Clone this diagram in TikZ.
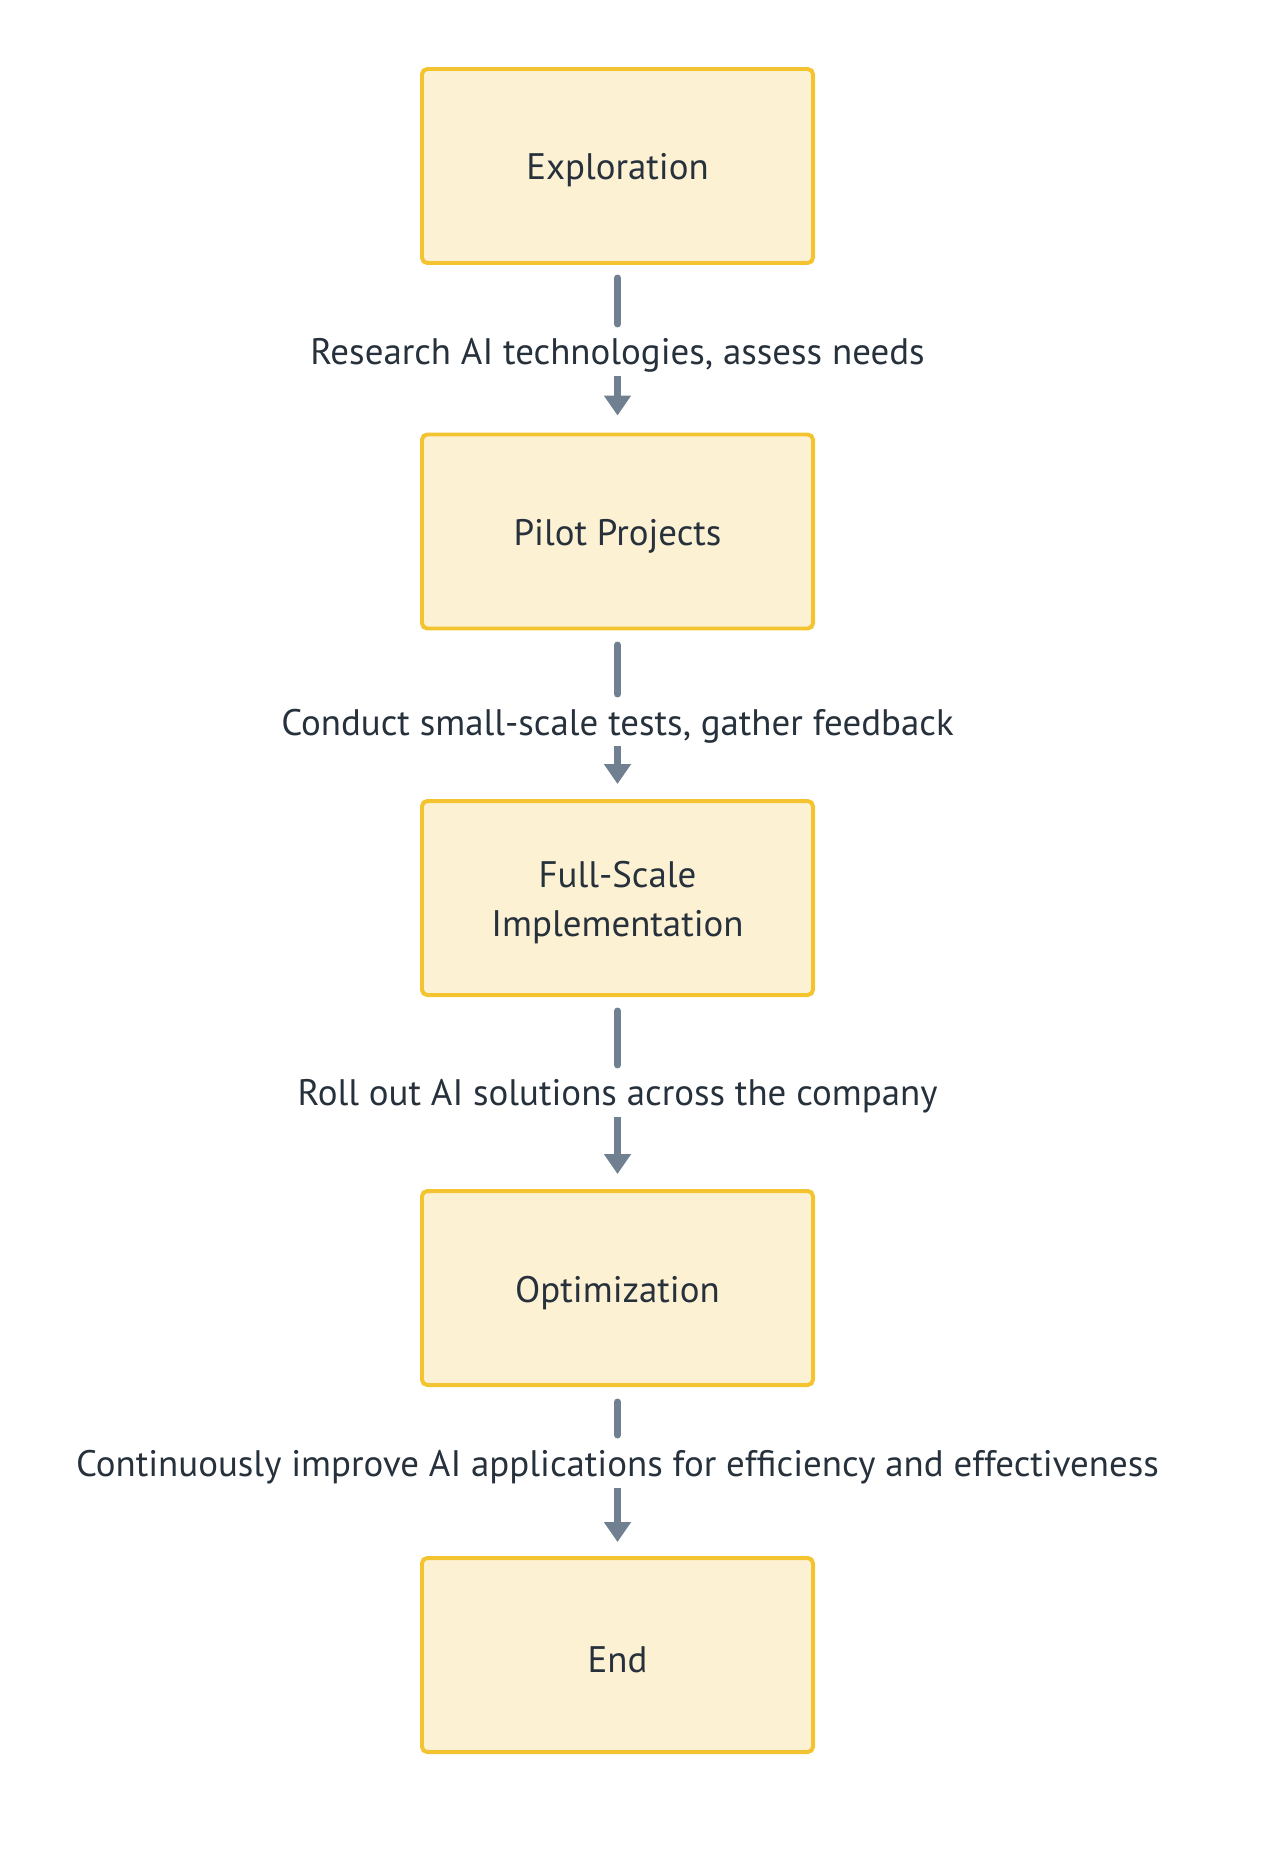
\documentclass[tikz,border=0pt]{standalone}
\usepackage{fontspec}
\setmainfont{PT Sans}
\usetikzlibrary{arrows.meta}
\definecolor{boxfill}{HTML}{FDF1D3}
\definecolor{boxline}{HTML}{F4C430}
\definecolor{arrowgray}{HTML}{708090}
\definecolor{textdark}{HTML}{26313C}
\newcommand{\dropped}[1]{\raisebox{-2.6pt}[\height][\depth]{#1}}
\tikzset{
  stage/.style={draw=boxline, fill=boxfill, line width=4pt*0.5669, rounded corners=3pt,
    minimum width=391*0.02cm, minimum height=194*0.02cm, align=center,
    text=textdark, font=\fontsize{21}{28}\selectfont},
  note/.style={text=textdark, font=\fontsize{21}{25}\selectfont, inner sep=0pt},
  link/.style={draw=arrowgray, line width=7*0.5669pt, line cap=round},
  linkarrow/.style={link, line cap=butt, shorten >=15*0.02cm,
    -{Triangle[width=26*0.5669pt, length=20*0.5669pt]}}
}
\begin{document}
\begin{tikzpicture}[x=0.02cm, y=-0.02cm]
    \useasboundingbox (0,0) rectangle (1280,1855);
    \node[stage] (explore) at (617.5,166) {\dropped{Exploration}};
    \node[stage] (pilot) at (617.5,531.5) {\dropped{Pilot Projects}};
    \node[stage] (full) at (617.5,898) {\dropped{Full-Scale}\\\dropped{Implementation}};
    \node[stage] (optim) at (617.5,1288) {\dropped{Optimization}};
    \node[stage] (finish) at (617.5,1655) {\dropped{End}};
    \node[note] (research) at (617.5,355) {Research AI technologies, assess needs};
    \node[note] (conduct) at (617.5,726) {Conduct small-scale tests, gather feedback};
    \node[note] (rollout) at (617.5,1096) {Roll out AI solutions across the company};
    \node[note] (improve) at (617.5,1467) {Continuously improve AI applications for efficiency and effectiveness};
    \coordinate (a1) at (617.5,278); \coordinate (a2) at (617.5,324);
    \coordinate (a3) at (617.5,376);
    \draw[link] (a1) -- (a2);% first link
    \draw[linkarrow, shorten >=17*0.02cm] (a3) -- (pilot.north);% first link
    \coordinate (b1) at (617.5,645); \coordinate (b2) at (617.5,694);
    \coordinate (b3) at (617.5,746);
    \draw[link] (b1) -- (b2);% second link
    \draw[linkarrow] (b3) -- (full.north);% second link
    \coordinate (c1) at (617.5,1011); \coordinate (c2) at (617.5,1065);
    \coordinate (c3) at (617.5,1117);
    \draw[link] (c1) -- (c2);% third link
    \draw[linkarrow] (c3) -- (optim.north);% third link
    \coordinate (d1) at (617.5,1402); \coordinate (d2) at (617.5,1435);
    \coordinate (d3) at (617.5,1488);
    \draw[link] (d1) -- (d2);% fourth link
    \draw[linkarrow, shorten >=14*0.02cm] (d3) -- (finish.north);% fourth link
  \end{tikzpicture}
\end{document}
